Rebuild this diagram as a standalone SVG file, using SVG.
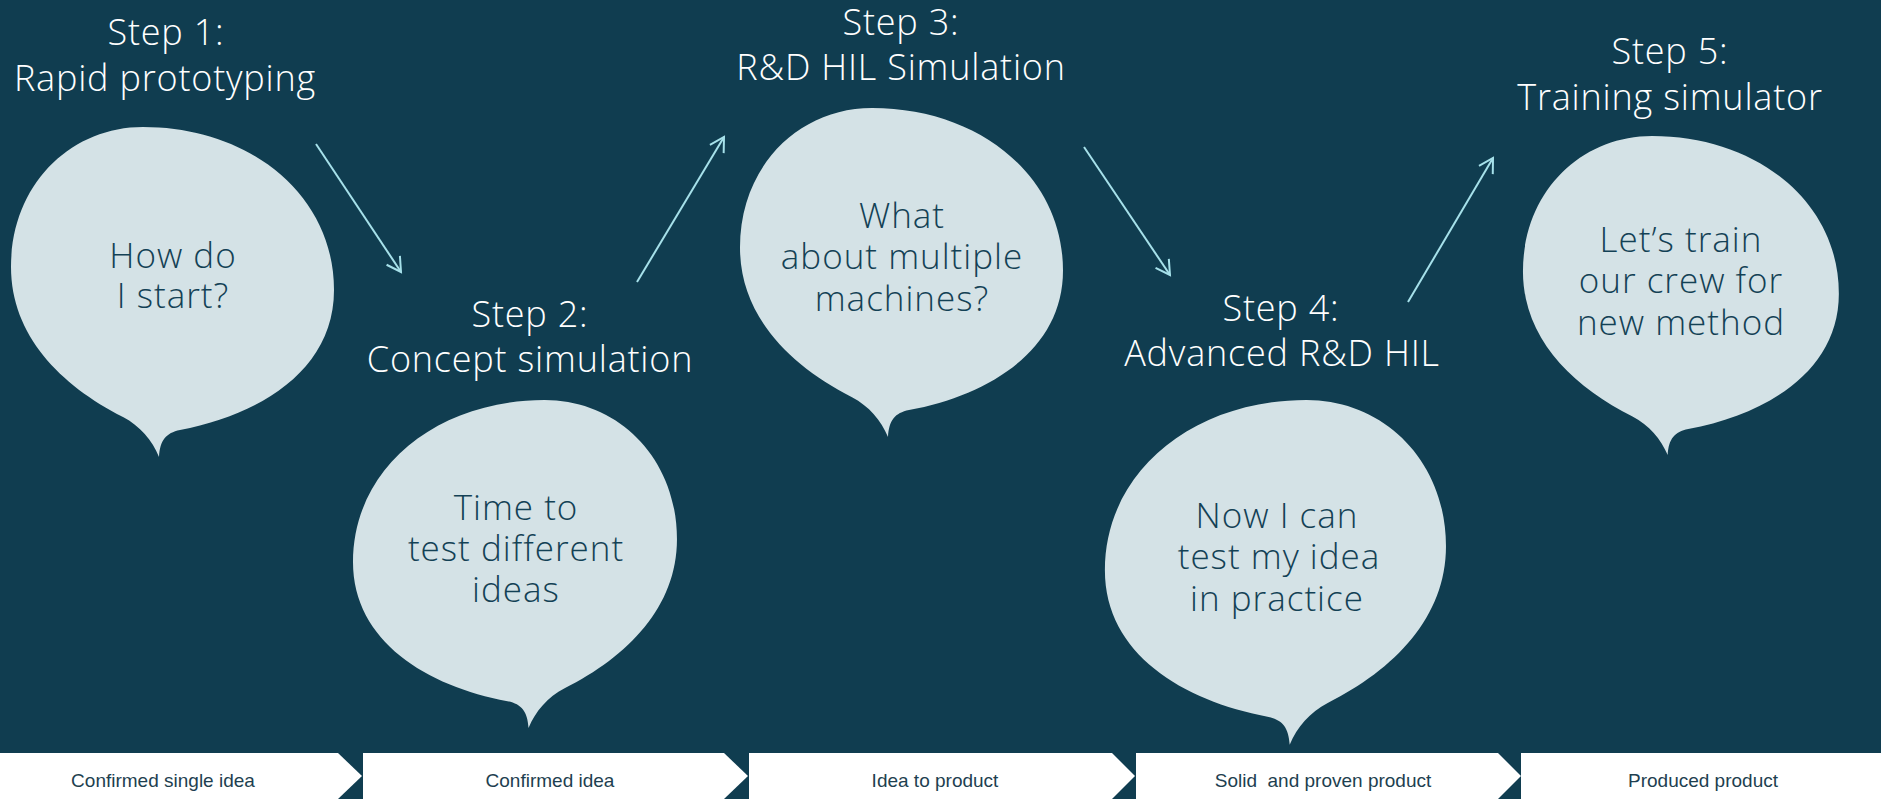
<svg xmlns="http://www.w3.org/2000/svg" width="1881" height="799" viewBox="0 0 1881 799">
  <defs>
    <style>
      .step { font-family: "Open Sans", "Noto Sans", "Liberation Sans", sans-serif; font-size: 36px; font-weight: 300; letter-spacing: 0.8px; fill: #ffffff; text-anchor: middle; }
      .say { font-family: "Open Sans", "Noto Sans", "Liberation Sans", sans-serif; font-size: 35px; font-weight: 300; letter-spacing: 1px; fill: #134155; text-anchor: middle; }
      .bar { fill: #ffffff; }
      .barlabel { font-family: "Liberation Sans", Arial, sans-serif; font-size: 19px; fill: #1e3f50; text-anchor: middle; white-space: pre; }
      .bubble { fill: #d4e2e6; }
      .conn { stroke: #a6e1ea; stroke-width: 2; fill: none; marker-end: url(#ah); }
    </style>
    <marker id="ah" viewBox="-16 -10 20 20" refX="0" refY="0" markerWidth="20" markerHeight="20" markerUnits="userSpaceOnUse" orient="auto" overflow="visible">
      <path d="M-14,-8 L0,0 L-14,8" fill="none" stroke="#a6e1ea" stroke-width="2"/>
    </marker>
    <path id="bub" d="M159 457 C152 440, 140 426, 123 417 C60 385, 11 335, 11 267 C11 185, 70 127, 143 127 C250 127, 334 195, 334 290 C334 370, 260 415, 180 430 C166 433, 160 440, 159 457 Z"/>
  </defs>

  <rect x="0" y="0" width="1881" height="799" fill="#103d50"/>

  <g id="connectors">
    <line class="conn" x1="316" y1="144" x2="401" y2="272"/>
    <line class="conn" x1="637" y1="282" x2="724" y2="137"/>
    <line class="conn" x1="1084" y1="147" x2="1170" y2="275"/>
    <line class="conn" x1="1408" y1="302" x2="1493" y2="158"/>
  </g>

  <g id="step1">
    <text class="step" x="166" y="45">Step 1:<tspan x="165" y="91">Rapid prototyping</tspan></text>
    <use href="#bub" class="bubble"/>
    <text class="say" x="173" y="268">How do<tspan x="173" y="308">I start?</tspan></text>
  </g>

  <g id="step2">
    <text class="step" x="530" y="327">Step 2:<tspan x="530" y="372">Concept simulation</tspan></text>
    <use href="#bub" class="bubble" transform="matrix(-1.003 0 0 0.994 688 273.8)"/>
    <text class="say" x="516" y="520">Time to<tspan x="516" y="561">test different</tspan><tspan x="516" y="602">ideas</tspan></text>
  </g>

  <g id="step3">
    <text class="step" x="901" y="35">Step 3:<tspan x="901" y="80">R&amp;D HIL Simulation</tspan></text>
    <use href="#bub" class="bubble" transform="matrix(1 0 0 0.997 729 -18.6)"/>
    <text class="say" x="902" y="228">What<tspan x="902" y="269">about multiple</tspan><tspan x="902" y="311">machines?</tspan></text>
  </g>

  <g id="step4">
    <text class="step" x="1281" y="321">Step 4:<tspan x="1282" y="366">Advanced R&amp;D HIL</tspan></text>
    <use href="#bub" class="bubble" transform="matrix(-1.056 0 0 1.045 1457.6 267.3)"/>
    <text class="say" x="1277" y="528">Now I can<tspan x="1279" y="569">test my idea</tspan><tspan x="1277" y="611">in practice</tspan></text>
  </g>

  <g id="step5">
    <text class="step" x="1670" y="64">Step 5:<tspan x="1670" y="110">Training simulator</tspan></text>
    <use href="#bub" class="bubble" transform="matrix(0.978 0 0 0.967 1512.2 13.2)"/>
    <text class="say" x="1681" y="252">Let’s train<tspan x="1681" y="293">our crew for</tspan><tspan x="1681" y="335">new method</tspan></text>
  </g>

  <g id="stage1">
    <polygon class="bar" points="0,753 338,753 362,776 338,799 0,799"/>
    <text class="barlabel" x="163" y="787">Confirmed single idea</text>
  </g>
  <g id="stage2">
    <polygon class="bar" points="363,753 724,753 748,776 724,799 363,799"/>
    <text class="barlabel" x="550" y="787">Confirmed idea</text>
  </g>
  <g id="stage3">
    <polygon class="bar" points="749,753 1112,753 1135,776 1112,799 749,799"/>
    <text class="barlabel" x="935" y="787">Idea to product</text>
  </g>
  <g id="stage4">
    <polygon class="bar" points="1136,753 1498,753 1521,776 1498,799 1136,799"/>
    <text class="barlabel" x="1323" y="787">Solid  and proven product</text>
  </g>
  <g id="stage5">
    <polygon class="bar" points="1521,753 1881,753 1881,799 1521,799"/>
    <text class="barlabel" x="1703" y="787">Produced product</text>
  </g>
</svg>
